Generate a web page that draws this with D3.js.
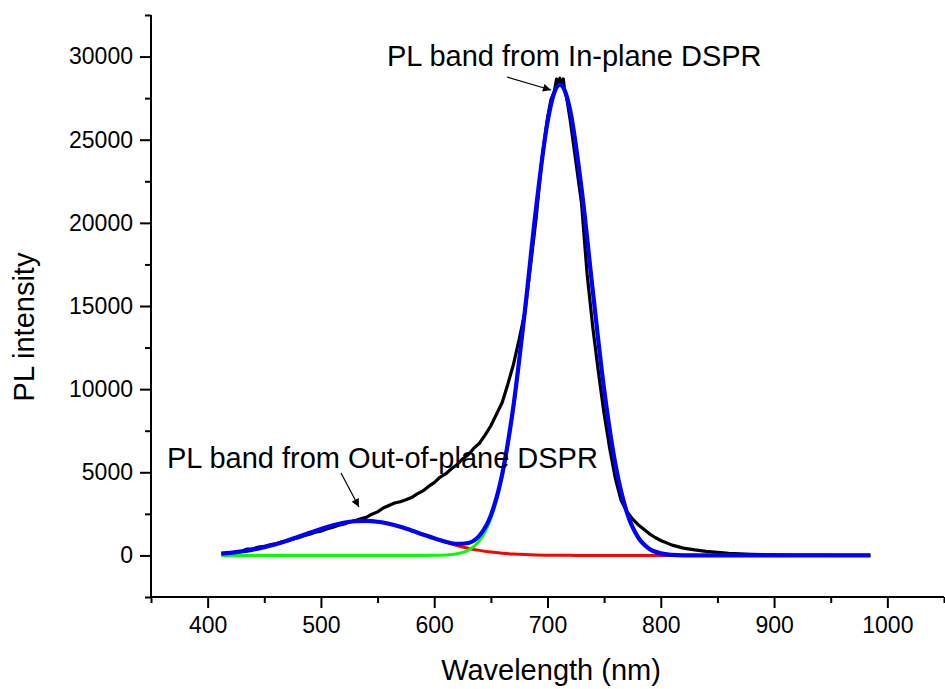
<!DOCTYPE html>
<html>
<head>
<meta charset="utf-8">
<script src="https://cdn.jsdelivr.net/npm/d3@7"></script>
<style>
  html, body { margin: 0; padding: 0; background: #fff; }
  svg { display: block; }
  text { font-family: "Liberation Sans", Arial, sans-serif; fill: #000; }
</style>
</head>
<body>
<svg id="chart" width="945" height="689"></svg>
<script>
// Measured PL spectrum (wavelength in nm, intensity in counts)
const measuredNm = [431,435,440,445,450,455,460,465,470,475,480,485,490,495,500,505,510,515,520,525,530,535,540,545,550,555,560,565,570,575,580,585,590,595,600,605,610,615,620,625,630,635,640,645,650,655,660,665,670,675,680,685,690,695,700,703,706,708,709,711,712,714,715,717,720,725,730,735,740,745,750,755,760,765,770,775,780,785,790,795,800,810,820,830,840,850,860,870,880,890,900,920,940,960,985];
const measuredPL = [280,380,400,500,540,640,690,800,860,970,1060,1180,1270,1400,1460,1590,1680,1800,1880,2010,2090,2200,2290,2480,2620,2850,3000,3150,3230,3350,3480,3700,3880,4150,4380,4700,4900,5200,5450,5800,6050,6450,6750,7250,7800,8500,9200,10300,11500,13000,14600,17400,20300,23800,26300,27400,27900,28650,28200,28700,28250,28650,28000,27500,26200,23700,21200,16900,13700,11000,8500,6400,4600,3300,2650,2200,1850,1580,1300,1080,900,620,440,330,240,180,130,100,70,50,40,25,15,10,5];

// Fitted bands, sampled on a common wavelength grid
const fitNm = [412,420,430,440,450,460,470,480,490,500,510,520,530,540,550,560,570,580,590,600,610,620,630,640,650,660,670,680,690,700,705,711,715,720,730,740,750,760,770,780,790,800,810,820,830,850,900,950,985];
// Out-of-plane DSPR band (red)
const outOfPlane = [110,158,241,352,497,675,885,1117,1358,1593,1799,1959,2055,2079,2025,1902,1721,1501,1262,1022,797,600,435,304,204,133,83,50,29,16,10,5,4,4,1,0,0,0,0,0,0,0,0,0,0,0,0,0,0];
// In-plane DSPR band (green)
const inPlane = [0,0,0,0,0,0,0,0,0,0,0,0,0,0,0,0,0,0,1,6,26,97,314,892,2205,4750,8935,14640,20910,26040,27610,28300,27990,26770,22090,15900,9970,5455,2600,1080,392,124,34,8,2,0,0,0,0];
// Cumulative fit (blue)
const fitSum = [110,158,241,352,497,675,885,1117,1358,1593,1799,1959,2055,2079,2025,1902,1721,1501,1263,1028,823,697,749,1196,2409,4883,9018,14690,20939,26056,27620,28305,27994,26774,22091,15900,9970,5455,2600,1080,392,124,34,8,2,0,0,0,0];

const xTicks = [400,500,600,700,800,900,1000];
const yTicks = [0,5000,10000,15000,20000,25000,30000];

const svg = d3.select("#chart");
const x = d3.scaleLinear().domain([350, 1050]).range([151, 944]);
const y = d3.scaleLinear().domain([-2500, 32500]).range([597, 15]);

// Axes: major ticks labelled, minor ticks halfway between
const xMinor = d3.range(350, 1051, 50).filter(v => !xTicks.includes(v));
const yMinor = d3.range(-2500, 32501, 5000);

const xAxisG = svg.append("g").attr("transform", "translate(0,597)");
xAxisG.append("line").attr("x1", x(350)).attr("x2", x(1050)).attr("stroke", "#000").attr("stroke-width", 2);
xAxisG.call(d3.axisBottom(x).tickValues(xTicks).tickSize(11).tickPadding(9).tickFormat(d3.format("d")))
  .call(g => g.select(".domain").remove())
  .call(g => g.selectAll(".tick line").attr("stroke-width", 2))
  .call(g => g.selectAll(".tick text").style("font-size", "23px").style("font-family", "Liberation Sans, Arial, sans-serif"));
xAxisG.append("g").call(d3.axisBottom(x).tickValues(xMinor).tickSize(6).tickFormat(""))
  .call(g => g.select(".domain").remove())
  .call(g => g.selectAll(".tick line").attr("stroke-width", 2));

const yAxisG = svg.append("g").attr("transform", "translate(151,0)");
yAxisG.append("line").attr("y1", y(-2500)).attr("y2", y(32500)).attr("stroke", "#000").attr("stroke-width", 2);
yAxisG.call(d3.axisLeft(y).tickValues(yTicks).tickSize(11).tickPadding(7).tickFormat(d3.format("d")))
  .call(g => g.select(".domain").remove())
  .call(g => g.selectAll(".tick line").attr("stroke-width", 2))
  .call(g => g.selectAll(".tick text").style("font-size", "23px").style("font-family", "Liberation Sans, Arial, sans-serif"));
yAxisG.append("g").call(d3.axisLeft(y).tickValues(yMinor).tickSize(6).tickFormat(""))
  .call(g => g.select(".domain").remove())
  .call(g => g.selectAll(".tick line").attr("stroke-width", 2));

// Axis titles
svg.append("text").attr("x", 551).attr("y", 680).attr("text-anchor", "middle")
  .style("font-size", "29px").text("Wavelength (nm)");
svg.append("text").attr("transform", "translate(34,327) rotate(-90)").attr("text-anchor", "middle")
  .style("font-size", "29px").text("PL intensity");

// Curves
const plot = svg.append("g");
const toPts = (xs, ys) => xs.map((v, i) => [v, ys[i]]);
const smooth = d3.line().x(d => x(d[0])).y(d => y(d[1])).curve(d3.curveMonotoneX);
const raw = d3.line().x(d => x(d[0])).y(d => y(d[1]));

plot.append("path").attr("d", raw(toPts(measuredNm, measuredPL)))
  .attr("fill", "none").attr("stroke", "#000").attr("stroke-width", 3.2).attr("stroke-linejoin", "round");
plot.append("path").attr("d", smooth(toPts(fitNm, outOfPlane)))
  .attr("fill", "none").attr("stroke", "#ff0000").attr("stroke-width", 3);
plot.append("path").attr("d", smooth(toPts(fitNm, inPlane)))
  .attr("fill", "none").attr("stroke", "#00ff00").attr("stroke-width", 3);
plot.append("path").attr("d", smooth(toPts(fitNm, fitSum)))
  .attr("fill", "none").attr("stroke", "#0000ff").attr("stroke-width", 4.2).attr("stroke-linejoin", "round");

// Annotations with arrows
const defs = svg.append("defs");
defs.append("marker").attr("id", "arrowHead").attr("viewBox", "0 0 10 10")
  .attr("refX", 10).attr("refY", 5).attr("markerWidth", 12).attr("markerHeight", 8)
  .attr("markerUnits", "userSpaceOnUse").attr("orient", "auto")
  .append("path").attr("d", "M0,0 L10,5 L0,10 Z").attr("fill", "#000");

svg.append("text").attr("x", 387).attr("y", 66).style("font-size", "29px").text("PL band from In-plane DSPR");
svg.append("line").attr("x1", 507).attr("y1", 77).attr("x2", 551).attr("y2", 90)
  .attr("stroke", "#000").attr("stroke-width", 1.2).attr("marker-end", "url(#arrowHead)");

svg.append("text").attr("x", 167).attr("y", 468).style("font-size", "29px").text("PL band from Out-of-plane DSPR");
svg.append("line").attr("x1", 341).attr("y1", 473).attr("x2", 359).attr("y2", 507)
  .attr("stroke", "#000").attr("stroke-width", 1.2).attr("marker-end", "url(#arrowHead)");
</script>
</body>
</html>
